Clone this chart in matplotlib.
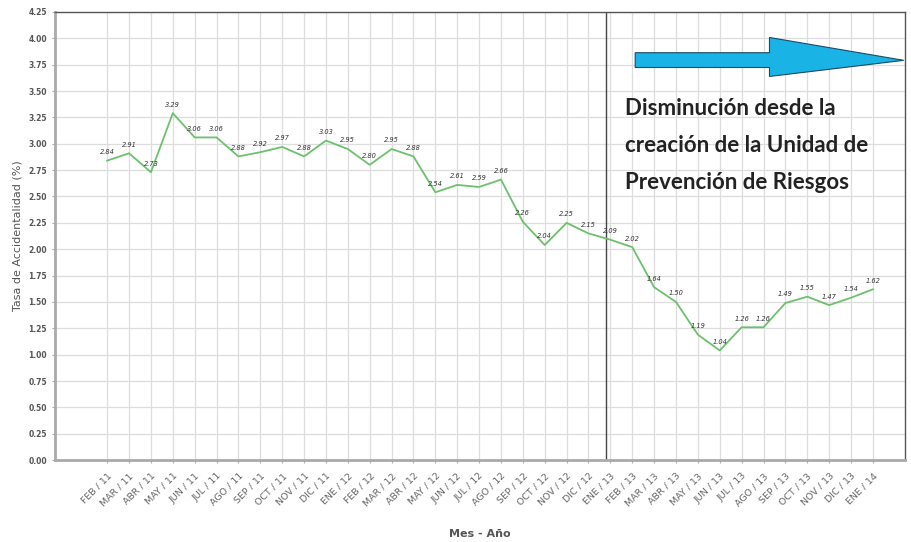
import matplotlib.pyplot as plt
from matplotlib.patches import Polygon

# data
months = ["FEB", "MAR", "ABR", "MAY", "JUN", "JUL", "AGO", "SEP", "OCT", "NOV", "DIC",
          "ENE", "FEB", "MAR", "ABR", "MAY", "JUN", "JUL", "AGO", "SEP", "OCT", "NOV", "DIC",
          "ENE", "FEB", "MAR", "ABR", "MAY", "JUN", "JUL", "AGO", "SEP", "OCT", "NOV", "DIC",
          "ENE"]
years = ["11"] * 11 + ["12"] * 12 + ["13"] * 12 + ["14"]
tasa = [2.84, 2.91, 2.73, 3.29, 3.06, 3.06, 2.88, 2.92, 2.97, 2.88, 3.03,
        2.95, 2.80, 2.95, 2.88, 2.54, 2.61, 2.59, 2.66, 2.26, 2.04, 2.25, 2.15,
        2.09, 2.02, 1.64, 1.50, 1.19, 1.04, 1.26, 1.26, 1.49, 1.55, 1.47, 1.54,
        1.62]
labels = [m + " / " + y for m, y in zip(months, years)]
y_ticks = [i * 0.25 for i in range(18)]
marker_pos = 22.78   # vertical line: creation of the unit
note = "Disminución desde la\ncreación de la Unidad de\nPrevención de Riesgos"

fig = plt.figure(figsize=(9.11, 5.42), dpi=100)
ax = fig.add_axes([0.060, 0.151, 0.933, 0.827])

x = list(range(len(tasa)))
ax.plot(x, tasa, color="#6cc16c", linewidth=1.3, zorder=3)
for xi, v in zip(x, tasa):
    ax.annotate("%.2f" % v, (xi, v), xytext=(0, 4), textcoords="offset points",
                ha="center", va="bottom", fontsize=4.8, style="italic", color="#333333")

ax.axvline(marker_pos, color="#444444", linewidth=1.0, zorder=2)

ax.set_xlim(-2.4, 36.45)
ax.set_ylim(0, 4.25)
ax.set_yticks(y_ticks)
ax.set_yticklabels(["%.2f" % t for t in y_ticks], fontsize=5.5, color="#555555", fontweight="bold")
ax.set_xticks(x)
ax.set_xticklabels(labels, rotation=45, ha="right", rotation_mode="anchor",
                   fontsize=6.8, color="#666666")
ax.tick_params(axis="both", length=2, color="#aaaaaa")
ax.tick_params(axis="x", pad=6)
ax.grid(True, color="#dddddd", linewidth=0.9, zorder=0)
ax.set_axisbelow(True)

for side in ["top", "right"]:
    ax.spines[side].set_color("#555555")
    ax.spines[side].set_linewidth(1.0)
for side in ["left", "bottom"]:
    ax.spines[side].set_color("#aaaaaa")
    ax.spines[side].set_linewidth(2.0)

ax.set_ylabel("Tasa de Accidentalidad (%)", fontsize=8, color="#555555", labelpad=4)
ax.set_xlabel("Mes - Año", fontsize=8, color="#555555", fontweight="bold", labelpad=15)

# block arrow in axes fraction
arrow = Polygon([(0.683, 0.909), (0.841, 0.909), (0.841, 0.943), (0.999, 0.892),
                 (0.841, 0.856), (0.841, 0.876), (0.683, 0.876)],
                closed=True, transform=ax.transAxes, facecolor="#19b3e6",
                edgecolor="#1a4a66", linewidth=0.8, zorder=4)
ax.add_patch(arrow)

ax.text(0.671, 0.808, note, transform=ax.transAxes, fontsize=16, family="Lato",
        fontweight="bold", color="#222222", va="top", ha="left", linespacing=1.95,
        zorder=5)

fig.savefig("out.png", dpi=100)
